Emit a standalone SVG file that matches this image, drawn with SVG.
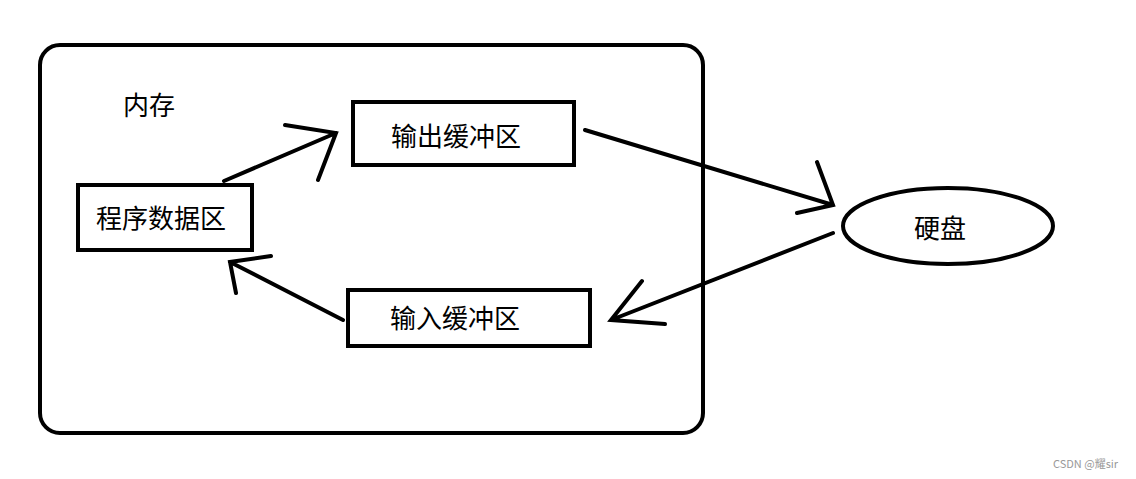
<svg xmlns="http://www.w3.org/2000/svg" width="1136" height="479" viewBox="0 0 1136 479">
<style>
.s{fill:none;stroke:#000;stroke-width:4;stroke-linecap:round}
.t{font-family:"Noto Sans CJK SC","Liberation Sans",sans-serif;font-size:26px;fill:#000}
</style>
<rect width="1136" height="479" fill="#fff"/>
<g id="memory"><rect class="s" x="40" y="45" width="663" height="388" rx="20"/><text class="t" x="123" y="115">内存</text></g>
<g id="out"><rect class="s" x="353" y="102" width="221" height="63"/><text class="t" x="456" y="146" text-anchor="middle">输出缓冲区</text></g>
<g id="prog"><rect class="s" x="78" y="185" width="174" height="65"/><text class="t" x="161" y="228" text-anchor="middle">程序数据区</text></g>
<g id="in"><rect class="s" x="348" y="290" width="242" height="56"/><text class="t" x="455" y="328" text-anchor="middle">输入缓冲区</text></g>
<g id="disk"><ellipse class="s" cx="948" cy="226" rx="105" ry="38"/><text class="t" x="940" y="238" text-anchor="middle">硬盘</text></g>
<g id="connectors">
<path class="s" d="M224 181L336 133M285 125L336 133L318 180"/>
<path class="s" d="M585 130L833 205M817 162L833 205L797 213"/>
<path class="s" d="M833 233L611 320M642 281L611 320L665 324"/>
<path class="s" d="M343 320L230 262M271 256L230 262L236 293"/>
</g>
<text x="1053" y="468" font-family="Noto Sans CJK SC,Liberation Sans,sans-serif" font-size="11" fill="#999">CSDN @耀sir</text>
</svg>
